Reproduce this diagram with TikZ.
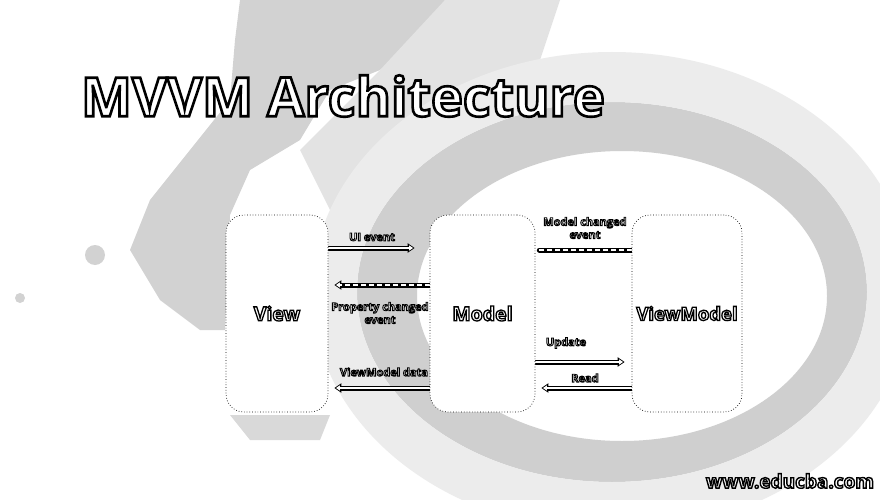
\documentclass[tikz,border=0pt]{standalone}
\usepackage{fontspec}
\setmainfont{Open Sans}
\usetikzlibrary{arrows.meta}
\newcommand{\outl}[2][1.4]{\special{pdf:literal direct q 2 Tr #1 w 0 G 1 g}#2\special{pdf:literal direct Q}}
\tikzset{
  box/.style={draw=black, dotted, line width=0.7pt, fill=white, rounded corners=18pt, minimum height=197pt, inner sep=0pt, font=\bfseries\fontsize{19.5}{22}\selectfont},
  lbl/.style={font=\bfseries\fontsize{11}{13}\selectfont, align=center, inner sep=0pt},
  fat/.style={line width=5pt, black, line cap=round, -{Triangle[length=7pt,width=9pt]},
     postaction={draw=white, line width=1.8pt, line cap=butt, -{Triangle[length=4pt,width=5pt]}, shorten >=1.6pt}},
  fatdash/.style={line width=5pt, black, line cap=round, -{Triangle[length=7pt,width=9pt]},
     postaction={draw=white, line width=1.6pt, line cap=butt, dash pattern=on 5pt off 3pt, -{Triangle[length=4pt,width=5pt]}, shorten >=1.6pt}}
}
\begin{document}
\begin{tikzpicture}[x=1pt,y=-1pt]
\useasboundingbox (0,0) rectangle (880,500);
\fill[white] (0,0) rectangle (880,500);
% background texture approximation
\fill[gray!35] (240,0) -- (445,0) -- (420,40) -- (380,70) -- (330,90) -- (300,140) -- (250,170) -- (230,215) -- (225,330) -- (200,330) -- (160,300) -- (130,250) -- (150,200) -- (190,150) -- (230,100) -- (235,40) -- cycle;
\fill[gray!22] (445,0) -- (560,0) -- (540,60) -- (470,110) -- (420,150) -- (380,200) -- (330,210) -- (300,150) -- (380,70) -- cycle;
\fill[gray!35] (95,255) circle[radius=10];
\fill[gray!35] (20,298) circle[radius=5];
\fill[gray!30] (230,415) -- (330,415) -- (320,440) -- (250,440) -- cycle;
\fill[gray!38, even odd rule] (612,292) ellipse[x radius=255, y radius=190] (622,296) ellipse[x radius=205, y radius=145];
\fill[gray!15, even odd rule] (612,292) ellipse[x radius=300, y radius=240] (612,292) ellipse[x radius=255, y radius=190];
% coordinates of connector levels
\coordinate (yUI) at (0,248);
\coordinate (yPC) at (0,285);
\coordinate (yVD) at (0,388);
\coordinate (yMC) at (0,250);
\coordinate (yUP) at (0,362);
\coordinate (yRD) at (0,388);
% box positions (anchors for the connectors)
\path node[box, draw=none, fill=none, minimum width=102pt] (View) at (277,313.5) {}
      node[box, draw=none, fill=none, minimum width=105pt] (Model) at (482.5,313.5) {}
      node[box, draw=none, fill=none, minimum width=110pt] (VM) at (687,313.5) {};
% connectors, partly hidden under the boxes
\draw[fat] ([xshift=-8pt]View.east |- yUI) -- ([xshift=-15pt]Model.west |- yUI);
\draw[fatdash] ([xshift=8pt]Model.west |- yPC) -- ([xshift=6pt]View.east |- yPC);
\draw[fat] ([xshift=8pt]Model.west |- yVD) -- ([xshift=6pt]View.east |- yVD);
\draw[fatdash] ([xshift=4pt]Model.east |- yMC) -- ([xshift=12pt]VM.west |- yMC);
\draw[fat] ([xshift=-8pt]Model.east |- yUP) -- ([xshift=-7pt]VM.west |- yUP);
\draw[fat] ([xshift=8pt]VM.west |- yRD) -- ([xshift=6pt]Model.east |- yRD);
% boxes drawn on top
\node[box, minimum width=102pt] (View2) at (View) {\outl[1.3]{View}};
\node[box, minimum width=105pt] (Model2) at (Model) {\outl[1.3]{Model}};
\node[box, minimum width=110pt, font=\bfseries\fontsize{18.5}{21}\selectfont] (VM2) at (VM) {\outl[1.3]{ViewModel}};
% labels
\node[lbl] (uil) at (372,237) {\outl[0.9]{UI event}};
\node[lbl] (pcl) at (380,313) {\outl[0.9]{Property changed}\\\outl[0.9]{event}};
\node[lbl] (vdl) at (384,372) {\outl[0.9]{ViewModel data}};
\node[lbl] (mcl) at (585,228) {\outl[0.9]{Model changed}\\\outl[0.9]{event}};
\node[lbl] (upl) at (566,343) {\outl[0.9]{Update}};
\node[lbl] (rdl) at (585,378) {\outl[0.9]{Read}};
% title and watermark
\node[font=\bfseries\fontsize{54}{58}\selectfont, inner sep=0pt] (title) at (343,96) {\outl[2.6]{MVVM Architecture}};
\node[font=\bfseries\fontsize{19}{21}\selectfont, inner sep=0pt] (wm) at (790,481) {\outl[1.4]{www.educba.com}};
\end{tikzpicture}
\end{document}
